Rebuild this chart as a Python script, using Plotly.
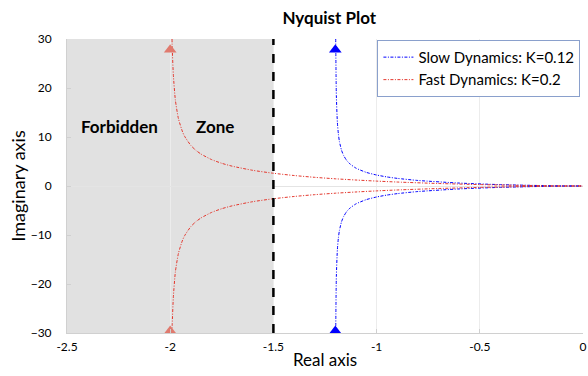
import plotly.graph_objects as go

# Slow dynamics (K=0.12) - upper branch then lower branch
slow_x_up = [-1.1981, -1.195, -1.19, -1.185, -1.18, -1.17, -1.16, -1.145, -1.13, -1.1, -1.05, -1.0, -0.95, -0.9, -0.8, -0.6, -0.4, -0.2, -0.1, -0.02, 0.0]
slow_y_up = [30.0, 18.48, 12.98, 10.53, 9.06, 7.31, 6.25, 5.22, 4.54, 3.65, 2.78, 2.24, 1.85, 1.56, 1.13, 0.60, 0.28, 0.089, 0.030, 0.0026, 0.0]
slow_x_dn = [-1.1981, -1.195, -1.19, -1.185, -1.18, -1.17, -1.16, -1.145, -1.13, -1.1, -1.05, -1.0, -0.95, -0.9, -0.8, -0.6, -0.4, -0.2, -0.1, -0.02, 0.0]
slow_y_dn = [-30.0, -18.48, -12.98, -10.53, -9.06, -7.31, -6.25, -5.22, -4.54, -3.65, -2.78, -2.24, -1.85, -1.56, -1.13, -0.60, -0.28, -0.089, -0.030, -0.0026, 0.0]

# Fast dynamics (K=0.2)
fast_x_up = [-1.9912, -1.99, -1.985, -1.975, -1.96, -1.94, -1.93, -1.9, -1.875, -1.85, -1.8, -1.75, -1.7, -1.6, -1.5, -1.4, -1.3, -1.2, -1.1, -1.0, -0.9, -0.7, -0.5, -0.3, -0.15, 0.0]
fast_y_up = [30.0, 28.07, 22.83, 17.55, 13.72, 11.03, 10.13, 8.28, 7.26, 6.50, 5.40, 4.63, 4.05, 3.20, 2.60, 2.14, 1.77, 1.47, 1.22, 1.00, 0.81, 0.51, 0.29, 0.126, 0.043, 0.0]
fast_x_dn = [-1.9912, -1.99, -1.985, -1.975, -1.96, -1.94, -1.93, -1.9, -1.875, -1.85, -1.8, -1.75, -1.7, -1.6, -1.5, -1.4, -1.3, -1.2, -1.1, -1.0, -0.9, -0.7, -0.5, -0.3, -0.15, 0.0]
fast_y_dn = [-30.0, -28.07, -22.83, -17.55, -13.72, -11.03, -10.13, -8.28, -7.26, -6.50, -5.40, -4.63, -4.05, -3.20, -2.60, -2.14, -1.77, -1.47, -1.22, -1.00, -0.81, -0.51, -0.29, -0.126, -0.043, 0.0]

# arrow heads
slow_arrow_x = [-1.2, -1.2]
slow_arrow_y = [27.8, -29.6]
fast_arrow_x = [-2.0, -2.0]
fast_arrow_y = [27.8, -29.6]

x_ticks = [-2.5, -2, -1.5, -1, -0.5, 0]
x_tick_text = ["-2.5", "-2", "-1.5", "-1", "-0.5", "0"]
y_ticks = [-30, -20, -10, 0, 10, 20, 30]

FONT = "Lato, 'Open Sans', sans-serif"
BLUE = "blue"
RED = "rgb(228,55,45)"
DASH = "3px,1.5px,1px,1.5px"

fig = go.Figure()

fig.add_shape(type="rect", xref="x", yref="y", x0=-2.5, x1=-1.5, y0=-30, y1=30,
              fillcolor="#e1e1e1", line_width=0, layer="below")
fig.add_shape(type="line", xref="x", yref="y", x0=-1.5, x1=-1.5, y0=-30, y1=30,
              line=dict(color="black", width=2.5, dash="dash"))

fig.add_trace(go.Scatter(x=slow_x_up + [None] + slow_x_dn, y=slow_y_up + [None] + slow_y_dn,
                         mode="lines", name="Slow Dynamics: K=0.12",
                         line=dict(color=BLUE, width=1, dash=DASH, shape="spline", smoothing=0.6)))
fig.add_trace(go.Scatter(x=fast_x_up + [None] + fast_x_dn, y=fast_y_up + [None] + fast_y_dn,
                         mode="lines", name="Fast Dynamics: K=0.2",
                         line=dict(color=RED, width=1, dash=DASH, shape="spline", smoothing=0.6)))
fig.add_trace(go.Scatter(x=slow_arrow_x, y=slow_arrow_y, mode="markers", showlegend=False,
                         marker=dict(symbol="triangle-up", size=11, color=BLUE)))
fig.add_trace(go.Scatter(x=fast_arrow_x, y=fast_arrow_y, mode="markers", showlegend=False,
                         marker=dict(symbol="triangle-up", size=11, color="#e07a6e")))

fig.add_annotation(x=-2.245, y=12.2, text="<b>Forbidden</b>", showarrow=False,
                   font=dict(size=17, color="black", family=FONT))
fig.add_annotation(x=-1.785, y=12.2, text="<b>Zone</b>", showarrow=False,
                   font=dict(size=17, color="black", family=FONT))

fig.update_layout(
    width=588, height=376,
    margin=dict(l=67, r=1, t=39, b=43),
    paper_bgcolor="white", plot_bgcolor="white",
    font=dict(family=FONT, color="black", size=12),
    title=dict(text="<b>Nyquist Plot</b>", x=0.56, xanchor="center", y=0.952, yanchor="middle",
               font=dict(size=17, family=FONT, color="black")),
    legend=dict(x=0.995, y=0.997, xanchor="right", yanchor="top",
                bgcolor="white", bordercolor="#8aa0cc", borderwidth=1,
                font=dict(size=15, family=FONT), tracegroupgap=0, itemwidth=30),
    showlegend=True,
)
fig.update_xaxes(range=[-2.5, 0], tickvals=x_ticks, ticktext=x_tick_text,
                 showgrid=True, gridcolor="#ececec", gridwidth=1,
                 zeroline=False, showline=True, linecolor="#d0d0d0", linewidth=1,
                 ticks="inside", ticklen=4, tickcolor="#d0d0d0", ticklabelstandoff=3,
                 ticklabeloverflow="allow",
                 title=dict(text="Real axis", font=dict(size=17, family=FONT), standoff=0))
fig.update_yaxes(range=[-30, 30], tickvals=y_ticks,
                 showgrid=False, zeroline=True, zerolinecolor="#e4e4e4", zerolinewidth=1,
                 showline=True, linecolor="#d0d0d0", linewidth=1,
                 ticks="inside", ticklen=4, tickcolor="#d0d0d0", ticklabelstandoff=12,
                 title=dict(text="Imaginary axis", font=dict(size=18, family=FONT), standoff=0))

fig.write_html("out.html")
